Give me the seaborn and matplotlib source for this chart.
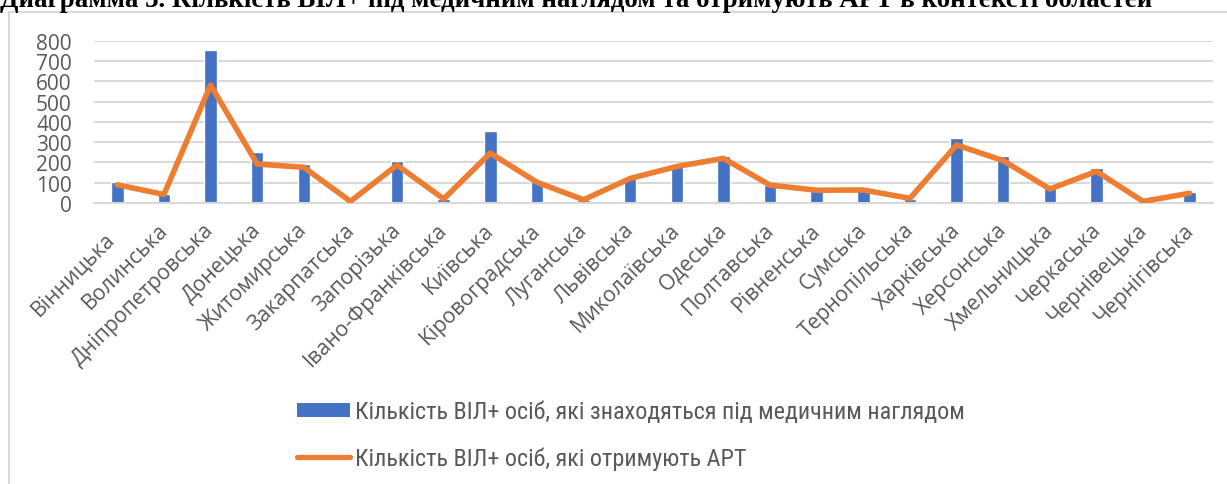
import numpy as np
import pandas as pd
import matplotlib
matplotlib.use("Agg")
import matplotlib.pyplot as plt
import matplotlib.transforms as mtransforms
from matplotlib.patches import Patch
from matplotlib.lines import Line2D
import seaborn as sns

regions = ["Вінницька", "Волинська", "Дніпропетровська", "Донецька", "Житомирська",
           "Закарпатська", "Запорізька", "Івано-Франківська", "Київська", "Кіровоградська",
           "Луганська", "Львівська", "Миколаївська", "Одеська", "Полтавська", "Рівненська",
           "Сумська", "Тернопільська", "Харківська", "Херсонська", "Хмельницька",
           "Черкаська", "Чернівецька", "Чернігівська"]
under_care = [102, 46, 755, 250, 192, 8, 207, 20, 355, 113, 16, 125, 187, 230, 90, 60,
              68, 20, 319, 232, 76, 174, 8, 53]
on_art = [90, 42, 581, 192, 176, 8, 187, 20, 246, 102, 16, 121, 180, 220, 88, 63,
          64, 23, 286, 209, 69, 156, 8, 48]
yticks = [0, 100, 200, 300, 400, 500, 600, 700, 800]

label_bar = "Кількість ВІЛ+ осіб, які знаходяться під медичним наглядом"
label_line = "Кількість ВІЛ+ осіб, які отримують АРТ"
title = "Диаграмма 3. Кількість ВІЛ+ під медичним наглядом та отримують АРТ в контексті областей"

sns.set_style("white")
plt.rcParams["font.family"] = ["Open Sans", "DejaVu Sans"]

W, H = 1227, 485
fig = plt.figure(figsize=(W / 100, H / 100), dpi=100)
ax = fig.add_axes([94 / W, 1 - 204 / H, (1213 - 94) / W, (204 - 41.7) / H])

df = pd.DataFrame({"region": regions, "care": under_care, "art": on_art})
blue = "#4472C4"
orange = "#ED7D31"
grey_txt = "#595959"

sns.barplot(data=df, x="region", y="care", color=blue, width=0.27, ax=ax,
            saturation=1, zorder=2)
sns.lineplot(x=np.arange(len(regions)), y=df["art"].values, color=orange, lw=4.0,
             ax=ax, zorder=3, solid_joinstyle="round", solid_capstyle="round")

ax.set_xlim(-0.5, len(regions) - 0.5)
ax.set_ylim(0, 800)
ax.set_yticks(yticks)
ax.set_yticklabels([str(v) for v in yticks], fontsize=15, color=grey_txt)
ax.yaxis.grid(True, color="#D9D9D9", lw=1.5, zorder=0)
ax.set_axisbelow(True)
for s in ["top", "right", "left"]:
    ax.spines[s].set_visible(False)
ax.spines["bottom"].set_color("#D9D9D9")
ax.spines["bottom"].set_linewidth(1.5)
ax.tick_params(axis="both", length=0)
ax.tick_params(axis="y", pad=16)
ax.set_xlabel("")
ax.set_ylabel("")

ax.set_xticks(np.arange(len(regions)))
ax.set_xticklabels(regions, rotation=45, ha="right", rotation_mode="anchor",
                   fontsize=14, color=grey_txt)
ax.tick_params(axis="x", pad=10)

# --- calibrate x tick label size / position against the reference
fig.canvas.draw()
r = fig.canvas.get_renderer()
lbls = ax.get_xticklabels()
bb = lbls[2].get_window_extent(r)
xs = 14 * 150 / bb.height
for lbl in lbls:
    lbl.set_fontsize(xs)
fig.canvas.draw()
bb = lbls[2].get_window_extent(r)
tick_px = ax.transData.transform((2, 0))[0]
dx = (tick_px + 8) - bb.x1
dy = (H - 220) - bb.y1
for i, lbl in enumerate(lbls):
    ex, ey = (-6, -9) if i == 0 else (0, 0)
    offset = mtransforms.ScaledTranslation((dx + ex) / 100, (dy + ey) / 100,
                                           fig.dpi_scale_trans)
    lbl.set_transform(lbl.get_transform() + offset)

handles = [Patch(facecolor=blue, edgecolor="none"),
           Line2D([0], [0], color=orange, lw=3.8, solid_capstyle="round")]
leg_family = ["Roboto Condensed", "Liberation Sans"]


def make_legend(size, spacing, anchor):
    px = size * 100 / 72
    lg = fig.legend(handles, [label_bar, label_line], loc="upper left",
                    bbox_to_anchor=anchor, bbox_transform=fig.transFigure, frameon=False,
                    prop={"family": leg_family, "size": size},
                    handlelength=53 / px, handletextpad=5 / px,
                    labelspacing=spacing, borderaxespad=0, borderpad=0,
                    handleheight=13 / px)
    for t in lg.get_texts():
        t.set_color(grey_txt)
    return lg


# scale legend text so its width matches the reference (~611 px)
leg = make_legend(14.5, 1.0, (297 / W, 1 - 398 / H))
fig.canvas.draw()
w = leg.get_texts()[0].get_window_extent(r).width
size = 14.5 * 611 / w
leg.remove()
leg = make_legend(size, 1.0, (297 / W, 1 - 398 / H))
fig.canvas.draw()
t0, t1 = [t.get_window_extent(r) for t in leg.get_texts()]
gap = (t0.y0 + t0.y1) / 2 - (t1.y0 + t1.y1) / 2
spacing = 1.0 + (46 - gap) / (size * 100 / 72)
leg.remove()
leg = make_legend(size, spacing, (297 / W, 1 - 398 / H))
fig.canvas.draw()
t0 = leg.get_texts()[0].get_window_extent(r)
cy = (t0.y0 + t0.y1) / 2
shift_y = (H - 413) - cy
leg.remove()
leg = make_legend(size, spacing, (297 / W, (H - 398 + shift_y) / H))

# chart area border
fig.add_artist(Line2D([9 / W, 9 / W], [0, 1 - 12.5 / H], color="#D9D9D9", lw=1.5,
                      transform=fig.transFigure))
fig.add_artist(Line2D([9 / W, 1], [1 - 12.5 / H, 1 - 12.5 / H], color="#D9D9D9", lw=1.5,
                      transform=fig.transFigure))

ttl = fig.text(0.0, 1 - 7 / H, title, family=["Liberation Serif", "DejaVu Serif"],
               weight="bold", fontsize=16, va="baseline", ha="left", color="black")
fig.canvas.draw()
tw = ttl.get_window_extent(fig.canvas.get_renderer()).width
ttl.set_fontsize(16 * 1153 / tw)

fig.savefig("out.png", dpi=100, facecolor="white")
